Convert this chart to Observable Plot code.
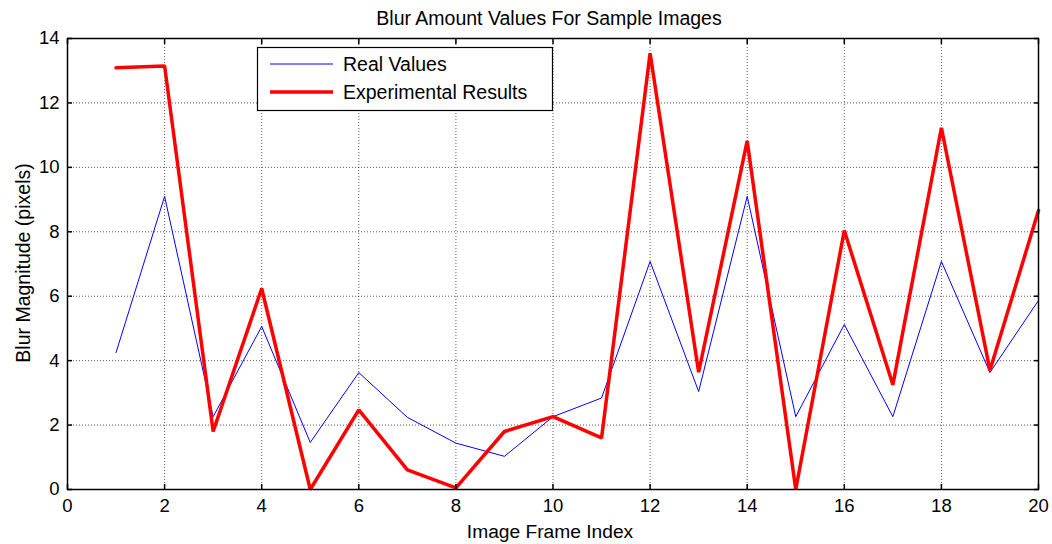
<!DOCTYPE html>
<html>
<head>
<meta charset="utf-8">
<script src="https://cdn.jsdelivr.net/npm/d3@7"></script>
<script src="https://cdn.jsdelivr.net/npm/@observablehq/plot@0.6"></script>
<style>
  html, body { margin: 0; padding: 0; background: #fff; }
  #chart { width: 1052px; height: 544px; }
</style>
</head>
<body>
<div id="chart"></div>
<script>
const titleText = "Blur Amount Values For Sample Images";
const xLabel = "Image Frame Index";
const yLabel = "Blur Magnitude (pixels)";
const seriesNames = ["Real Values", "Experimental Results"];
const frames = [1, 2, 3, 4, 5, 6, 7, 8, 9, 10, 11, 12, 13, 14, 15, 16, 17, 18, 19, 20];
const realValues = [4.25, 9.1, 2.26, 5.06, 1.46, 3.63, 2.24, 1.44, 1.03, 2.26, 2.84, 7.08, 3.04, 9.1, 2.26, 5.12, 2.26, 7.08, 3.63, 5.87];
const experimentalResults = [13.09, 13.15, 1.8, 6.24, 0, 2.47, 0.61, 0.05, 1.8, 2.26, 1.6, 13.54, 3.64, 10.82, 0, 8.04, 3.25, 11.23, 3.7, 8.66];
const xTicks = [0, 2, 4, 6, 8, 10, 12, 14, 16, 18, 20];
const yTicks = [0, 2, 4, 6, 8, 10, 12, 14];

const realData = frames.map((f, i) => ({frame: f, value: realValues[i]}));
const expData = frames.map((f, i) => ({frame: f, value: experimentalResults[i]}));

const font = "'Liberation Sans', Arial, Helvetica, sans-serif";
const gridStyle = {stroke: "#222", strokeOpacity: 0.9, strokeWidth: 0.8, strokeDasharray: "1,2"};

const chart = Plot.plot({
  width: 1052,
  height: 544,
  marginLeft: 67,
  marginRight: 14,
  marginTop: 38,
  marginBottom: 55,
  style: {fontFamily: font, fontSize: "18px", background: "#fff", color: "#000", overflow: "visible"},
  x: {domain: [0, 20]},
  y: {domain: [0, 14]},
  marks: [
    Plot.gridX(xTicks, gridStyle),
    Plot.gridY(yTicks, gridStyle),
    Plot.line(realData, {x: "frame", y: "value", stroke: "#0000ff", strokeWidth: 1}),
    Plot.line(expData, {x: "frame", y: "value", stroke: "#ff0000", strokeWidth: 3.5, strokeLinejoin: "miter"}),
    Plot.frame({stroke: "#000", strokeWidth: 1.5}),
    Plot.axisX(xTicks, {anchor: "bottom", tickSize: 0, tickPadding: 9, label: null, fontSize: 18.5}),
    Plot.axisY(yTicks, {anchor: "left", tickSize: 0, tickPadding: 8, label: null, fontSize: 18.5}),
    Plot.axisX(xTicks, {anchor: "bottom", tickSize: -5, fill: "none", label: null, strokeWidth: 1.5}),
    Plot.axisX(xTicks, {anchor: "top", tickSize: -5, fill: "none", label: null, strokeWidth: 1.5}),
    Plot.axisY(yTicks, {anchor: "left", tickSize: -5, fill: "none", label: null, strokeWidth: 1.5}),
    Plot.axisY(yTicks, {anchor: "right", tickSize: -5, fill: "none", label: null, strokeWidth: 1.5}),
    Plot.text([titleText], {frameAnchor: "top", lineAnchor: "middle", textAnchor: "middle", dy: -20, dx: -4, fontSize: 19.5, fill: "#000"}),
    Plot.text([xLabel], {frameAnchor: "bottom", lineAnchor: "middle", textAnchor: "middle", dy: 42, dx: -3, fontSize: 19.2, fill: "#000"}),
    Plot.text([yLabel], {frameAnchor: "left", lineAnchor: "middle", textAnchor: "middle", dx: -44, dy: -1, rotate: -90, fontSize: 19.5, fill: "#000"})
  ]
});

// Legend box (MATLAB style)
const svg = d3.select(chart);
const lg = svg.append("g").attr("font-family", font).attr("font-size", 19.5).attr("text-anchor", "start");
lg.append("rect").attr("x", 257.5).attr("y", 47.5).attr("width", 295).attr("height", 63)
  .attr("fill", "#fff").attr("stroke", "#000").attr("stroke-width", 1.2);
const legendItems = [
  {name: seriesNames[0], color: "#0000ff", width: 1},
  {name: seriesNames[1], color: "#ff0000", width: 3.5}
];
legendItems.forEach((d, i) => {
  const y = 64 + i * 28;
  lg.append("line").attr("x1", 270).attr("x2", 333).attr("y1", y).attr("y2", y)
    .attr("stroke", d.color).attr("stroke-width", d.width);
  lg.append("text").attr("x", 343).attr("y", y).attr("dy", "0.36em").attr("fill", "#000")
    .attr("text-anchor", "start").text(d.name);
});

document.getElementById("chart").appendChild(chart);
</script>
</body>
</html>
